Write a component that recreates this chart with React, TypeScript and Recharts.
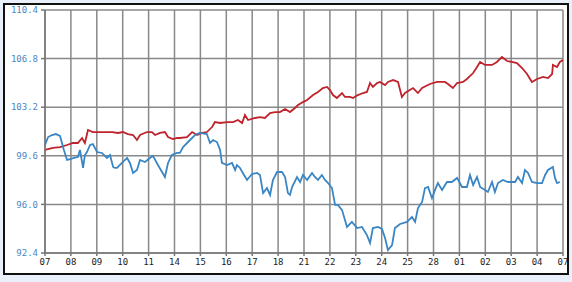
import { LineChart, Line, XAxis, YAxis, CartesianGrid } from 'recharts'

const dayLabels = ['07', '08', '09', '10', '11', '14', '15', '16', '17', '18', '21', '22', '23', '24', '25', '28', '01', '02', '03', '04', '07']
const dayTicks = dayLabels.map((_, i) => i)
const yTicks = [92.4, 96.0, 99.6, 103.2, 106.8, 110.4]

// blue series: position in trading days, value
const blueT = [
  0, 0.12, 0.27, 0.42, 0.58, 0.73, 0.85, 0.97, 1.12, 1.27, 1.35, 1.47, 1.54, 1.62, 1.74, 1.85, 2.01, 2.2, 2.39, 2.51,
  2.63, 2.7, 2.78, 2.97, 3.17, 3.28, 3.4, 3.55, 3.67, 3.86, 4.05, 4.17, 4.36, 4.52, 4.63, 4.75, 4.9, 5.1, 5.21, 5.33,
  5.6, 5.79, 5.98, 6.25, 6.37, 6.49, 6.64, 6.76, 6.83, 7.03, 7.22, 7.34, 7.41, 7.53, 7.64, 7.8, 7.99, 8.19, 8.3, 8.42,
  8.57, 8.69, 8.8, 8.96, 9.15, 9.27, 9.38, 9.46, 9.54, 9.73, 9.85, 9.96, 10.12, 10.31, 10.42, 10.54, 10.69, 10.81, 10.93, 11.08,
  11.2, 11.31, 11.47, 11.66, 11.85, 12.05, 12.24, 12.43, 12.55, 12.66, 12.86, 13.01, 13.13, 13.24, 13.4, 13.51, 13.71, 13.98, 14.17, 14.29,
  14.4, 14.56, 14.67, 14.79, 14.94, 15.06, 15.17, 15.33, 15.52, 15.71, 15.91, 16.1, 16.29, 16.41, 16.53, 16.68, 16.8, 16.99, 17.1, 17.26,
  17.37, 17.49, 17.68, 17.88, 18.15, 18.26, 18.42, 18.53, 18.65, 18.8, 19.0, 19.19, 19.31, 19.42, 19.61, 19.69, 19.77, 19.88,
]
const blueV = [
  100.4, 100.99, 101.14, 101.21, 101.07, 100.03, 99.29, 99.36, 99.44, 99.51, 100.03, 98.7, 99.66, 99.88, 100.4, 100.47, 99.88, 99.81, 99.44, 99.66,
  98.77, 98.7, 98.7, 99.07, 99.44, 99.07, 98.33, 98.55, 99.29, 99.14, 99.44, 99.59, 98.92, 98.4, 98.03, 99.07, 99.66, 99.81, 99.81, 100.25,
  100.77, 101.14, 101.29, 101.21, 100.55, 100.77, 100.62, 100.03, 99.07, 98.92, 99.07, 98.55, 98.92, 98.7, 98.33, 97.81, 98.25, 98.33, 98.18, 96.84,
  97.21, 96.7, 97.81, 98.4, 98.4, 98.03, 96.84, 96.7, 97.29, 98.03, 97.66, 98.18, 97.81, 98.33, 98.03, 97.81, 98.18, 97.81, 97.58, 97.21,
  95.96, 95.96, 95.58, 94.33, 94.7, 94.25, 94.33, 93.73, 93.14, 94.25, 94.33, 94.18, 93.51, 92.62, 92.99, 94.25, 94.55, 94.7, 95.07, 94.7,
  95.73, 96.18, 97.21, 97.29, 96.47, 97.07, 97.58, 97.07, 97.66, 97.66, 97.96, 97.29, 97.29, 98.18, 97.44, 98.03, 97.29, 97.07, 96.92, 97.66,
  96.92, 97.58, 97.81, 97.66, 97.66, 98.03, 97.58, 98.55, 98.33, 97.66, 97.58, 97.58, 98.18, 98.55, 98.77, 97.96, 97.58, 97.66,
]

// red series
const redT = [
  0, 0.31, 0.58, 0.85, 1.08, 1.27, 1.43, 1.54, 1.66, 1.85, 2.12, 2.39, 2.59, 2.82, 3.01, 3.2, 3.4, 3.55, 3.67, 3.94,
  4.13, 4.25, 4.44, 4.63, 4.75, 4.94, 5.1, 5.21, 5.48, 5.68, 5.87, 6.06, 6.25, 6.45, 6.56, 6.76, 7.03, 7.26, 7.45, 7.61,
  7.72, 7.84, 8.11, 8.3, 8.49, 8.69, 8.88, 9.07, 9.27, 9.46, 9.65, 9.77, 9.96, 10.12, 10.35, 10.54, 10.73, 10.89, 11.0, 11.12,
  11.27, 11.47, 11.58, 11.78, 11.89, 12.08, 12.28, 12.43, 12.55, 12.66, 12.82, 12.93, 13.13, 13.24, 13.44, 13.63, 13.78, 13.9, 14.21, 14.4,
  14.56, 14.86, 15.14, 15.44, 15.56, 15.75, 15.91, 16.14, 16.29, 16.53, 16.68, 16.8, 16.99, 17.26, 17.45, 17.64, 17.84, 18.03, 18.22, 18.42,
  18.61, 18.8, 19.0, 19.23, 19.42, 19.58, 19.61, 19.77, 19.88, 20.0,
]
const redV = [
  100.03, 100.18, 100.25, 100.4, 100.55, 100.55, 100.92, 100.55, 101.51, 101.36, 101.36, 101.36, 101.36, 101.29, 101.36, 101.21, 101.14, 100.77, 101.14, 101.36,
  101.36, 101.14, 101.29, 101.36, 100.99, 100.84, 100.92, 100.92, 100.99, 101.36, 101.14, 101.29, 101.36, 101.73, 102.1, 102.03, 102.1, 102.1, 102.25, 102.03,
  102.62, 102.25, 102.4, 102.47, 102.4, 102.77, 102.84, 102.84, 103.07, 102.84, 103.14, 103.36, 103.58, 103.73, 104.1, 104.33, 104.62, 104.7, 104.47, 104.1,
  103.88, 104.25, 103.96, 103.96, 103.88, 104.1, 104.25, 104.33, 104.99, 104.7, 104.99, 105.07, 104.84, 105.07, 105.21, 105.07, 103.96, 104.25, 104.62, 104.25,
  104.62, 104.92, 105.07, 105.07, 104.92, 104.62, 104.99, 105.07, 105.29, 105.73, 106.18, 106.55, 106.33, 106.33, 106.55, 106.92, 106.62, 106.55, 106.47, 106.1,
  105.66, 105.07, 105.29, 105.44, 105.36, 105.66, 106.33, 106.18, 106.55, 106.7,
]

const blueData = blueT.map((t, i) => ({ t, v: blueV[i] }))
const redData = redT.map((t, i) => ({ t, v: redV[i] }))

const tickFont = { fontFamily: '"DejaVu Sans Mono", monospace', fontSize: 9 }

const App = () => {
  return (
    <div style={{ position: 'absolute', left: 0, top: 0, width: 572, height: 282, background: '#eaf0fa' }}>
      <div
        style={{
          position: 'absolute',
          left: 3,
          top: 3,
          width: 562,
          height: 268,
          border: '2px solid #111',
          background: '#fff',
          overflow: 'hidden',
        }}
      >
        <div style={{ position: 'absolute', left: -5, top: -5 }}>
          <LineChart width={572} height={282} margin={{ top: 10, right: 9, left: 0, bottom: 9 }}>
            <CartesianGrid stroke="#888" strokeWidth={1.5} />
            <XAxis
              dataKey="t"
              type="number"
              domain={[0, 20]}
              ticks={dayTicks}
              interval={0}
              tickFormatter={(v: number) => dayLabels[v]}
              height={20}
              tickSize={3}
              tickMargin={3}
              stroke="#777"
              strokeWidth={1.5}
              tick={{ ...tickFont, fill: '#222' }}
              allowDuplicatedCategory={false}
            />
            <YAxis
              type="number"
              domain={[92.4, 110.4]}
              ticks={yTicks}
              interval={0}
              tickFormatter={(v: number) => v.toFixed(1)}
              width={45}
              tickSize={4}
              tickMargin={3}
              stroke="#777"
              strokeWidth={1.5}
              tick={{ ...tickFont, fill: '#4a86c5' }}
            />
            <Line data={redData} dataKey="v" type="linear" stroke="#c0232b" strokeWidth={1.8} dot={false} isAnimationActive={false} />
            <Line data={blueData} dataKey="v" type="linear" stroke="#3a86c4" strokeWidth={1.8} dot={false} isAnimationActive={false} />
          </LineChart>
        </div>
      </div>
    </div>
  )
}

export default App
